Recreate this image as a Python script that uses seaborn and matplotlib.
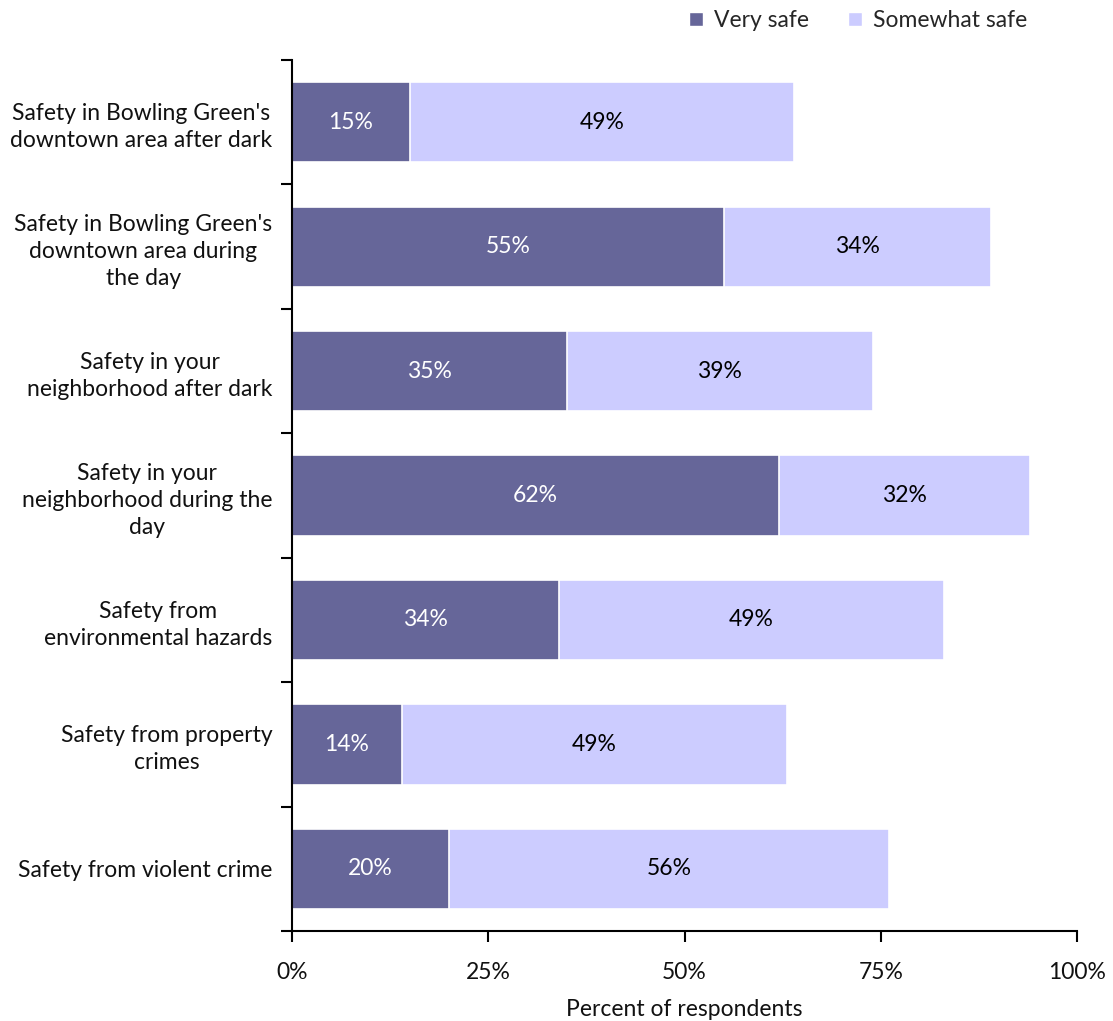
import matplotlib
matplotlib.use("Agg")
import matplotlib.pyplot as plt
import seaborn as sns
import pandas as pd
from matplotlib.patches import Patch
from matplotlib.ticker import FuncFormatter

categories = [
    "Safety in Bowling Green's\ndowntown area after dark",
    "Safety in Bowling Green's\ndowntown area during\nthe day",
    "Safety in your\nneighborhood after dark",
    "Safety in your\nneighborhood during the\nday",
    "Safety from\nenvironmental hazards",
    "Safety from property\ncrimes",
    "Safety from violent crime",
]
very_safe = [15, 55, 35, 62, 34, 14, 20]
somewhat_safe = [49, 34, 39, 32, 49, 49, 56]
x_ticks = [0, 25, 50, 75, 100]

dark = "#666699"
light = "#ccccff"

sns.set_theme(style="white")
plt.rcParams["font.family"] = ["Lato", "DejaVu Sans"]

FS = 16.5

df = pd.DataFrame({
    "category": categories,
    "very": very_safe,
    "some": somewhat_safe,
})
df["total"] = df["very"] + df["some"]

fig = plt.figure(figsize=(11.13, 10.21), dpi=100)
ax = fig.add_axes([0.2624, 0.0881, 0.7053, 0.8531])

sns.barplot(data=df, y="category", x="total", color=light, orient="h",
            width=0.645, edgecolor="white", linewidth=1.2, ax=ax, saturation=1)
sns.barplot(data=df, y="category", x="very", color=dark, orient="h",
            width=0.645, edgecolor="white", linewidth=1.2, ax=ax, saturation=1)

for i, (v, s) in enumerate(zip(very_safe, somewhat_safe)):
    ax.text(v / 2, i, f"{v}%", ha="center", va="center", color="white", fontsize=FS)
    ax.text(v + s / 2, i, f"{s}%", ha="center", va="center", color="black", fontsize=FS)

ax.set_xlim(0, 100)
ax.set_ylim(len(categories) - 0.5, -0.5)
ax.set_xticks(x_ticks)
ax.xaxis.set_major_formatter(FuncFormatter(lambda v, p: f"{v:.0f}%"))
ax.set_xlabel("Percent of respondents", fontsize=FS, color="#111111", labelpad=12)
ax.set_ylabel("")

# y-axis: ticks at the boundaries between categories, labels centered on bars
ax.set_yticks([i - 0.5 for i in range(len(categories) + 1)])
ax.set_yticklabels([])
ax.set_yticks(range(len(categories)), minor=True)
ax.set_yticklabels(categories, minor=True, fontsize=FS, color="#111111")
for lab in ax.get_yticklabels(minor=True):
    lab.set_multialignment("center")
    lab.set_linespacing(1.35)
ax.tick_params(axis="y", which="major", direction="out", length=8, width=1.5,
               color="black", left=True)
ax.tick_params(axis="y", which="minor", length=0, pad=14)
ax.tick_params(axis="x", direction="out", length=8, width=1.5, color="black",
               bottom=True, labelsize=FS, pad=14, labelcolor="#111111")

for side in ["top", "right"]:
    ax.spines[side].set_visible(False)
for side in ["left", "bottom"]:
    ax.spines[side].set_color("black")
    ax.spines[side].set_linewidth(1.5)

handles = [Patch(facecolor=dark, label="Very safe"),
           Patch(facecolor=light, label="Somewhat safe")]
fig.legend(handles=handles, loc="center", bbox_to_anchor=(0.771, 0.98), ncol=2,
           frameon=False, fontsize=FS, handlelength=0.6, handleheight=0.6,
           handletextpad=0.5, columnspacing=1.7)

fig.savefig("out.png", dpi=100, facecolor="white")
